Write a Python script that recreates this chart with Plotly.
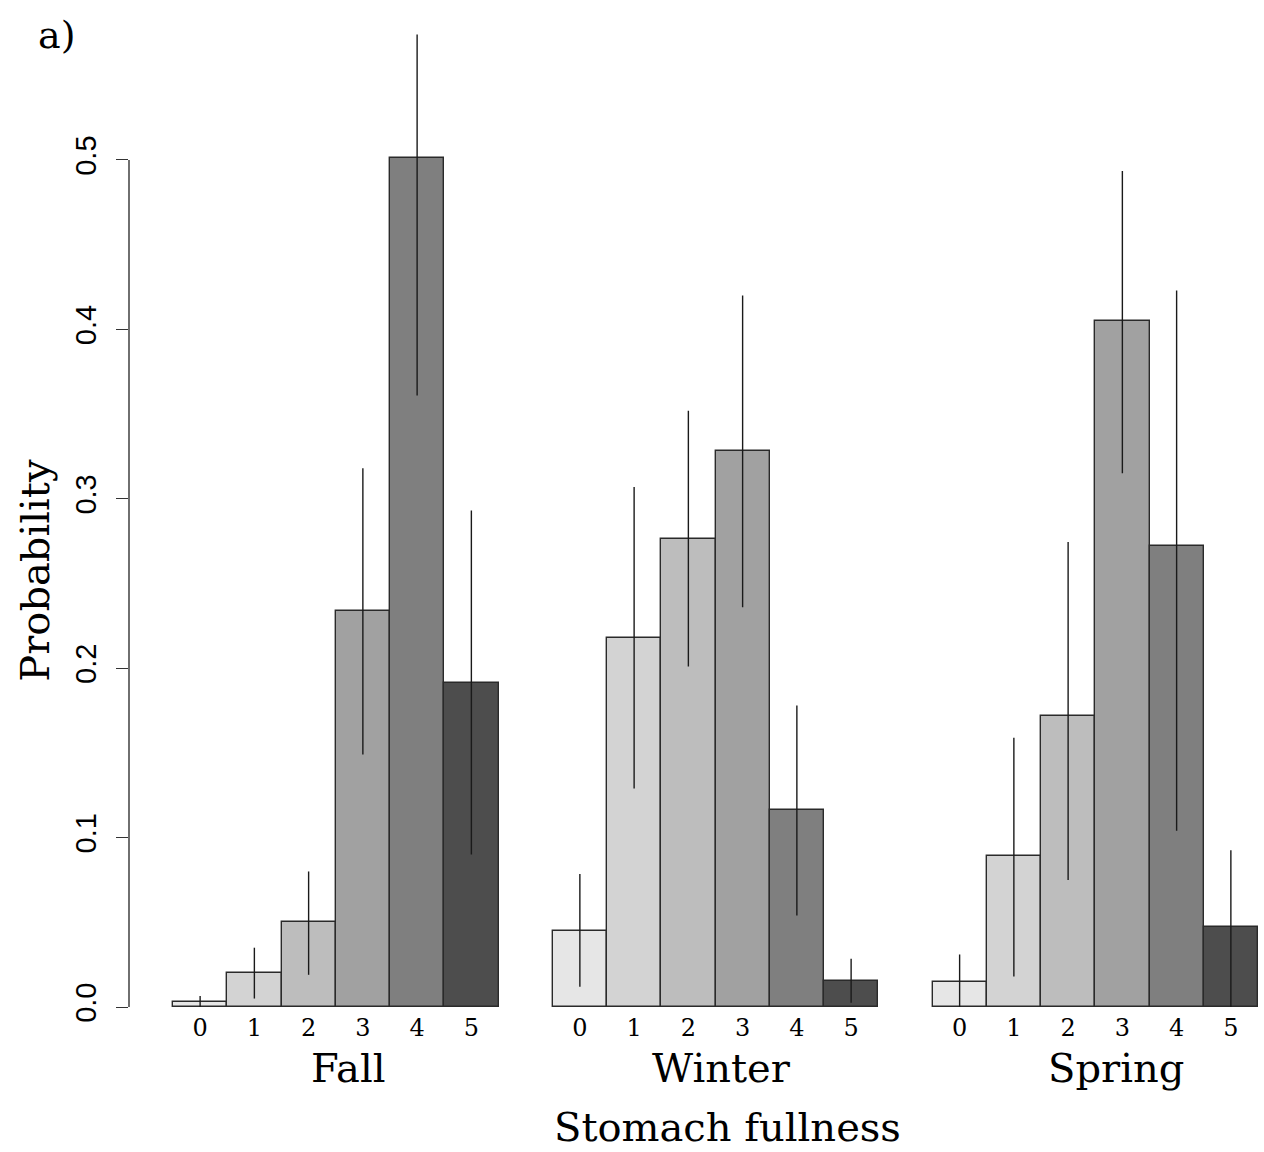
import plotly.graph_objects as go

# Posterior probabilities of stomach-fullness classes by season, with 95% intervals
seasons = ["Fall", "Winter", "Spring"]
fullness = ["0", "1", "2", "3", "4", "5"]

fall_p = [0.003, 0.020, 0.050, 0.234, 0.501, 0.191]
fall_lo = [0.0, 0.005, 0.019, 0.149, 0.361, 0.090]
fall_hi = [0.0065, 0.035, 0.080, 0.318, 0.574, 0.293]

winter_p = [0.045, 0.218, 0.276, 0.328, 0.116, 0.0155]
winter_lo = [0.012, 0.129, 0.201, 0.236, 0.054, 0.0025]
winter_hi = [0.0785, 0.307, 0.352, 0.420, 0.178, 0.0285]

spring_p = [0.015, 0.089, 0.172, 0.405, 0.272, 0.047]
spring_lo = [0.0, 0.018, 0.075, 0.315, 0.104, 0.0]
spring_hi = [0.031, 0.159, 0.2745, 0.4935, 0.423, 0.0925]

y_ticks = [0.0, 0.1, 0.2, 0.3, 0.4, 0.5]
y_ticktext = ["0.0", "0.1", "0.2", "0.3", "0.4", "0.5"]

grays = ["#e6e6e6", "#d3d3d3", "#bdbdbd", "#a1a1a1", "#7f7f7f", "#4d4d4d"]

SERIF = "DejaVu Serif"
SANS = "Liberation Sans"

series = [(fall_p, fall_lo, fall_hi), (winter_p, winter_lo, winter_hi),
          (spring_p, spring_lo, spring_hi)]

fig = go.Figure()
tickvals, ticktext = [], []
for g, (season, (p, lo, hi)) in enumerate(zip(seasons, series)):
    xs = [g * 7 + i + 0.5 for i in range(len(fullness))]
    tickvals += xs
    ticktext += fullness
    fig.add_trace(go.Bar(
        x=xs, y=p, width=1.0, name=season,
        marker=dict(color=grays, line=dict(color="#2a2a2a", width=1.4)),
        error_y=dict(type="data", symmetric=False,
                     array=[h - v for h, v in zip(hi, p)],
                     arrayminus=[v - l for v, l in zip(p, lo)],
                     color="#1a1a1a", thickness=1.4, width=0),
        showlegend=False,
    ))

# y-axis line spans only the labelled range
fig.add_shape(type="line", xref="paper", yref="y", x0=0, x1=0, y0=0, y1=0.5,
              line=dict(color="#333333", width=1.4))


def label(text, x, y, size=40, angle=0):
    return dict(text=text, x=x, y=y, xref="paper", yref="paper",
                xanchor="center", yanchor="middle", textangle=angle,
                showarrow=False, font=dict(family=SERIF, size=size, color="black"))


ann = [label("a)", -0.064, 0.985, size=38),
       label("Probability", -0.0833, 0.443, angle=-90)]
for season, px in zip(seasons, [0.194, 0.5252, 0.8742]):
    ann.append(label(season, px, -0.0618))
ann.append(label("Stomach fullness", 0.5297, -0.1216))

fig.update_layout(
    width=1264, height=1152,
    margin=dict(l=129, r=6, t=20, b=145),
    paper_bgcolor="white", plot_bgcolor="white",
    bargap=0,
    annotations=ann,
    xaxis=dict(range=[-0.811, 20], tickvals=tickvals, ticktext=ticktext,
               showgrid=False, zeroline=False, showline=False, ticks="",
               ticklabelstandoff=4,
               tickfont=dict(family=SERIF, size=24, color="black")),
    yaxis=dict(range=[0, 0.5826], tickvals=y_ticks, ticktext=y_ticktext,
               showgrid=False, zeroline=False, showline=False,
               ticks="outside", ticklen=12, tickwidth=1.4, tickcolor="#333333",
               tickangle=-90, ticklabelstandoff=8,
               tickfont=dict(family=SANS, size=29, color="black")),
)

fig.write_html("out.html")
